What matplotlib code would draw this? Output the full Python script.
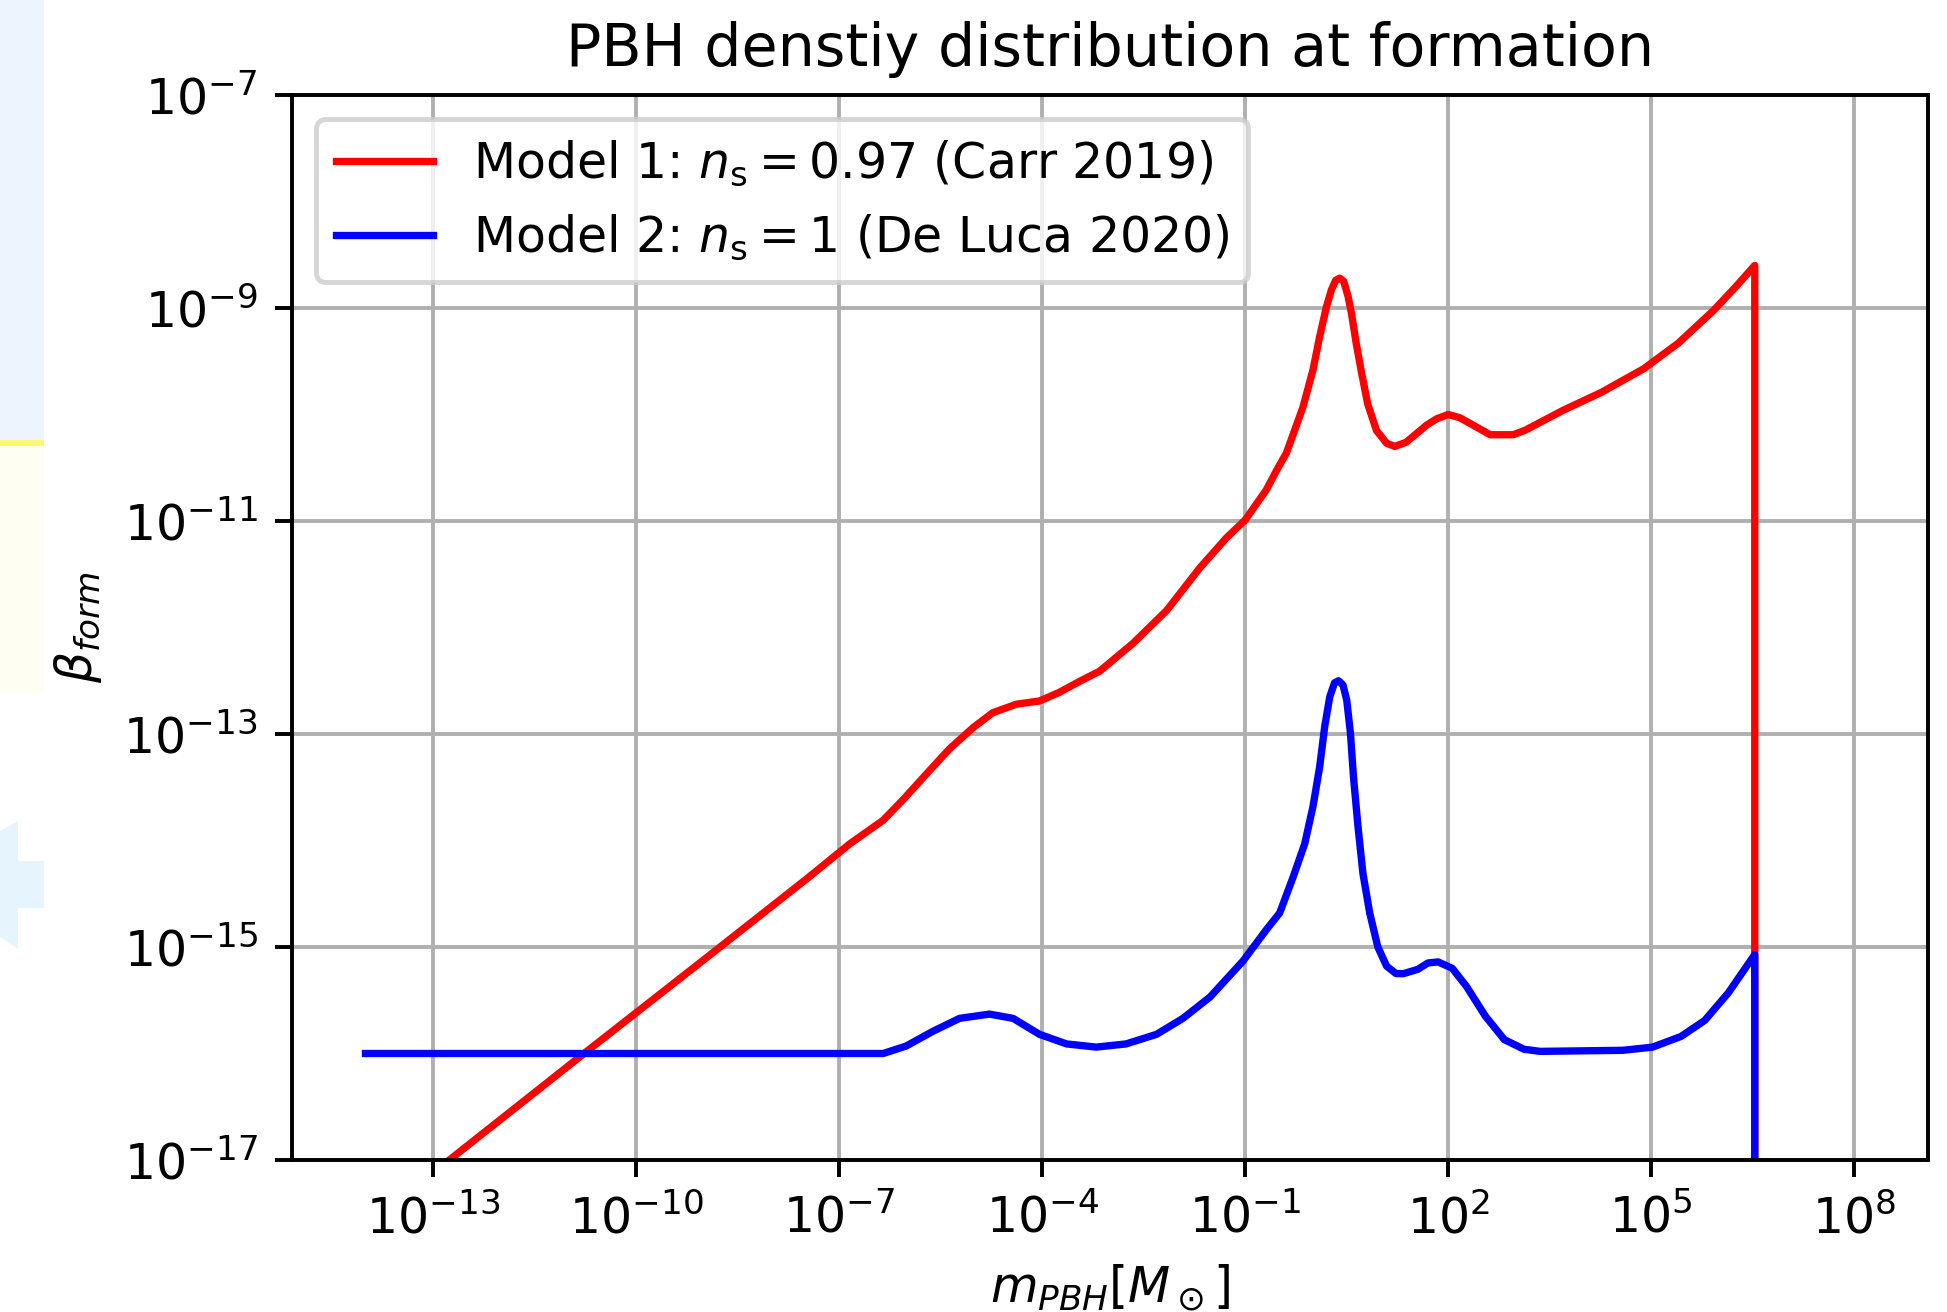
import numpy as np
import matplotlib
matplotlib.use("Agg")
import matplotlib.pyplot as plt
from matplotlib.patches import Rectangle, Polygon
from matplotlib.ticker import NullLocator

# log10(m / M_sun) and log10(beta)
logm_1 = [-13.0, -10.77, -9.0, -7.5, -6.84, -6.35, -6.06, -5.66, -5.37, -5.02, -4.73,
          -4.38, -4.04, -3.75, -3.43, -3.15, -2.66, -2.16, -1.67, -1.28, -1.0, -0.69,
          -0.54, -0.39, -0.146, 0.002, 0.10, 0.20, 0.274, 0.337, 0.397, 0.456, 0.52,
          0.57, 0.64, 0.72, 0.81, 0.94, 1.09, 1.21, 1.38, 1.68, 1.83, 2.0, 2.17, 2.34,
          2.62, 2.96, 3.13, 3.70, 4.27, 4.89, 5.40, 5.91, 6.25, 6.53]
logb_1 = [-17.12, -16.0, -15.12, -14.37, -14.03, -13.81, -13.62, -13.34, -13.14, -12.94,
          -12.80, -12.72, -12.69, -12.61, -12.50, -12.41, -12.15, -11.84, -11.44, -11.16,
          -10.99, -10.71, -10.53, -10.36, -9.93, -9.58, -9.27, -8.99, -8.83, -8.74,
          -8.72, -8.75, -8.89, -9.05, -9.33, -9.61, -9.90, -10.15, -10.27, -10.30,
          -10.26, -10.10, -10.04, -10.0, -10.03, -10.09, -10.19, -10.19, -10.15, -9.96,
          -9.79, -9.57, -9.33, -9.03, -8.80, -8.60]

logm_2 = [-14.0, -6.35, -6.01, -5.61, -5.22, -4.78, -4.43, -4.04, -3.64, -3.20, -2.76,
          -2.31, -1.92, -1.52, -1.03, -0.69, -0.49, -0.29, -0.12, 0.002, 0.10, 0.175,
          0.25, 0.32, 0.38, 0.445, 0.50, 0.555, 0.60, 0.667, 0.74, 0.84, 0.96, 1.09,
          1.23, 1.34, 1.55, 1.70, 1.85, 2.06, 2.27, 2.55, 2.83, 3.12, 3.36, 4.58, 5.02,
          5.44, 5.79, 6.14, 6.53]
logb_2 = [-16.0, -16.0, -15.93, -15.79, -15.67, -15.63, -15.67, -15.82, -15.91, -15.94,
          -15.91, -15.82, -15.67, -15.47, -15.13, -14.84, -14.68, -14.34, -14.03,
          -13.68, -13.31, -12.93, -12.65, -12.52, -12.50, -12.54, -12.68, -12.99,
          -13.40, -13.87, -14.31, -14.68, -15.0, -15.18, -15.25, -15.25, -15.21,
          -15.15, -15.14, -15.20, -15.37, -15.65, -15.87, -15.96, -15.98, -15.97,
          -15.94, -15.84, -15.69, -15.43, -15.07]

labels = [r'Model 1: $n_{\rm s} = 0.97$ (Carr 2019)',
          r'Model 2: $n_{\rm s} = 1$ (De Luca 2020)']
xticks_exp = [-13, -10, -7, -4, -1, 2, 5, 8]
yticks_exp = [-17, -15, -13, -11, -9, -7]

# above the cutoff mass beta is zero -> vertical drop on the log axis
m1 = np.append(10.0 ** np.array(logm_1), 10.0 ** logm_1[-1])
b1 = np.append(10.0 ** np.array(logb_1), 0.0)
m2 = np.append(10.0 ** np.array(logm_2), 10.0 ** logm_2[-1])
b2 = np.append(10.0 ** np.array(logb_2), 0.0)

W, H, DPI = 1947, 1312, 352
fig = plt.figure(figsize=(W / DPI, H / DPI), dpi=DPI)


def px(x, y):
    return (x / W, 1 - y / H)


# stray screenshot strip on the left edge
fig.add_artist(Rectangle(px(0, 440), 44 / W, 440 / H, transform=fig.transFigure,
                         color='#eef4fe', lw=0, zorder=-5))
fig.add_artist(Rectangle(px(0, 446), 44 / W, 6 / H, transform=fig.transFigure,
                         color='#fbfa6e', lw=0, zorder=-5))
fig.add_artist(Rectangle(px(0, 694), 44 / W, 248 / H, transform=fig.transFigure,
                         color='#fffef2', lw=0, zorder=-5))
fig.add_artist(Polygon([px(0, 831), px(18, 821), px(18, 861), px(44, 861), px(44, 908),
                        px(18, 908), px(18, 949), px(0, 937)],
                       transform=fig.transFigure, color='#e6f4fe', lw=0, zorder=-5))

ax = fig.add_axes([291.7 / W, 1 - 1160 / H, (1928 - 291.7) / W, (1160 - 95) / H])
ax.plot(m1, b1, color='red', linewidth=1.5, label=labels[0])
ax.plot(m2, b2, color='blue', linewidth=1.5, label=labels[1])

ax.set_xscale('log')
ax.set_yscale('log')
ax.set_xlim(10 ** -15.09, 10 ** 9.09)
ax.set_ylim(1e-17, 1e-7)
ax.set_xticks([10.0 ** e for e in xticks_exp])
ax.set_yticks([10.0 ** e for e in yticks_exp])
ax.xaxis.set_minor_locator(NullLocator())
ax.yaxis.set_minor_locator(NullLocator())

ax.set_title('PBH denstiy distribution at formation')
ax.set_xlabel(r'$m_{PBH}[M_\odot]$')
ax.set_ylabel(r'$\beta_{form}$')
ax.grid(True)
ax.legend(loc='upper left')

fig.savefig('out.png', dpi=DPI)
